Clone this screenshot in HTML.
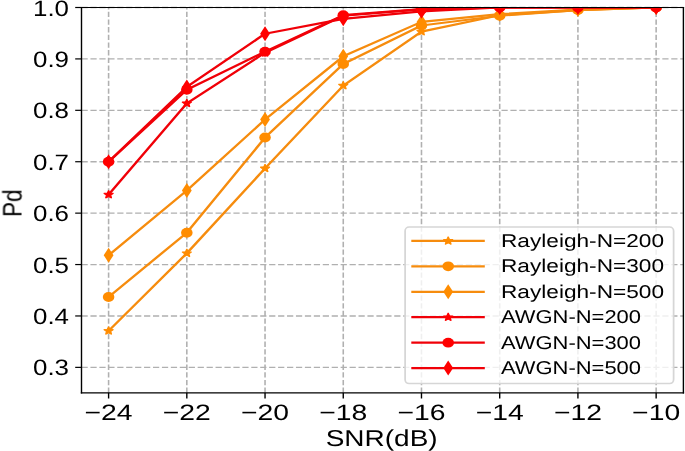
<!DOCTYPE html><html><head><meta charset="utf-8"><style>html,body{margin:0;padding:0;background:#fff;}svg{display:block;}text{font-family:"Liberation Sans",sans-serif;fill:#000;text-rendering:geometricPrecision;}</style></head><body>
<svg width="685" height="451" viewBox="0 0 685 451">
<rect width="685" height="451" fill="#fff"/>
<defs><clipPath id="ax"><rect x="69.957" y="7.5" width="516.652" height="385.4"/></clipPath></defs>
<g transform="scale(1.165,1)">
<g><line x1="93.219" y1="392.9" x2="93.219" y2="7.5" stroke="#b0b0b0" stroke-width="1.35" stroke-dasharray="5.35 2.32"/><line x1="160.361" y1="392.9" x2="160.361" y2="7.5" stroke="#b0b0b0" stroke-width="1.35" stroke-dasharray="5.35 2.32"/><line x1="227.502" y1="392.9" x2="227.502" y2="7.5" stroke="#b0b0b0" stroke-width="1.35" stroke-dasharray="5.35 2.32"/><line x1="294.644" y1="392.9" x2="294.644" y2="7.5" stroke="#b0b0b0" stroke-width="1.35" stroke-dasharray="5.35 2.32"/><line x1="361.785" y1="392.9" x2="361.785" y2="7.5" stroke="#b0b0b0" stroke-width="1.35" stroke-dasharray="5.35 2.32"/><line x1="428.927" y1="392.9" x2="428.927" y2="7.5" stroke="#b0b0b0" stroke-width="1.35" stroke-dasharray="5.35 2.32"/><line x1="496.069" y1="392.9" x2="496.069" y2="7.5" stroke="#b0b0b0" stroke-width="1.35" stroke-dasharray="5.35 2.32"/><line x1="563.21" y1="392.9" x2="563.21" y2="7.5" stroke="#b0b0b0" stroke-width="1.35" stroke-dasharray="5.35 2.32"/><line x1="69.957" y1="367.37" x2="586.609" y2="367.37" stroke="#b0b0b0" stroke-width="1.35" stroke-dasharray="5.35 2.32"/><line x1="69.957" y1="315.96" x2="586.609" y2="315.96" stroke="#b0b0b0" stroke-width="1.35" stroke-dasharray="5.35 2.32"/><line x1="69.957" y1="264.55" x2="586.609" y2="264.55" stroke="#b0b0b0" stroke-width="1.35" stroke-dasharray="5.35 2.32"/><line x1="69.957" y1="213.14" x2="586.609" y2="213.14" stroke="#b0b0b0" stroke-width="1.35" stroke-dasharray="5.35 2.32"/><line x1="69.957" y1="161.73" x2="586.609" y2="161.73" stroke="#b0b0b0" stroke-width="1.35" stroke-dasharray="5.35 2.32"/><line x1="69.957" y1="110.32" x2="586.609" y2="110.32" stroke="#b0b0b0" stroke-width="1.35" stroke-dasharray="5.35 2.32"/><line x1="69.957" y1="58.91" x2="586.609" y2="58.91" stroke="#b0b0b0" stroke-width="1.35" stroke-dasharray="5.35 2.32"/><line x1="69.957" y1="7.5" x2="586.609" y2="7.5" stroke="#b0b0b0" stroke-width="1.35" stroke-dasharray="5.35 2.32"/></g>
<g clip-path="url(#ax)"><polyline points="93.219,330.869 160.361,253.24 227.502,168.413 294.644,85.643 361.785,31.663 428.927,15.212 496.069,10.071 563.21,7.5" fill="none" stroke="#f68c0e" stroke-width="2.2" stroke-linejoin="round"/><polygon points="93.219,326.569 92.082,329.303 89.129,329.54 91.379,331.467 90.691,334.348 93.219,332.804 95.746,334.348 95.059,331.467 97.308,329.54 94.356,329.303" fill="#ff8c00" stroke="#ff8c00" stroke-width="1.0" stroke-linejoin="bevel"/><polygon points="160.361,248.94 159.223,251.674 156.271,251.911 158.52,253.838 157.833,256.719 160.361,255.175 162.888,256.719 162.201,253.838 164.45,251.911 161.498,251.674" fill="#ff8c00" stroke="#ff8c00" stroke-width="1.0" stroke-linejoin="bevel"/><polygon points="227.502,164.113 226.365,166.848 223.413,167.085 225.662,169.011 224.975,171.892 227.502,170.348 230.03,171.892 229.342,169.011 231.592,167.085 228.64,166.848" fill="#ff8c00" stroke="#ff8c00" stroke-width="1.0" stroke-linejoin="bevel"/><polygon points="294.644,81.343 293.506,84.078 290.554,84.314 292.803,86.241 292.116,89.122 294.644,87.578 297.171,89.122 296.484,86.241 298.733,84.314 295.781,84.078" fill="#ff8c00" stroke="#ff8c00" stroke-width="1.0" stroke-linejoin="bevel"/><polygon points="361.785,27.363 360.648,30.097 357.696,30.334 359.945,32.261 359.258,35.141 361.785,33.598 364.313,35.141 363.626,32.261 365.875,30.334 362.923,30.097" fill="#ff8c00" stroke="#ff8c00" stroke-width="1.0" stroke-linejoin="bevel"/><polygon points="428.927,10.912 427.79,13.646 424.837,13.883 427.087,15.809 426.4,18.69 428.927,17.147 431.455,18.69 430.767,15.809 433.017,13.883 430.064,13.646" fill="#ff8c00" stroke="#ff8c00" stroke-width="1.0" stroke-linejoin="bevel"/><polygon points="496.069,5.771 494.931,8.505 491.979,8.742 494.228,10.668 493.541,13.549 496.069,12.006 498.596,13.549 497.909,10.668 500.158,8.742 497.206,8.505" fill="#ff8c00" stroke="#ff8c00" stroke-width="1.0" stroke-linejoin="bevel"/><polygon points="563.21,3.2 562.073,5.935 559.121,6.171 561.37,8.098 560.683,10.979 563.21,9.435 565.738,10.979 565.051,8.098 567.3,6.171 564.348,5.935" fill="#ff8c00" stroke="#ff8c00" stroke-width="1.0" stroke-linejoin="bevel"/><polyline points="93.219,296.938 160.361,232.676 227.502,137.567 294.644,64.051 361.785,25.494 428.927,15.726 496.069,10.071 563.21,7.5" fill="none" stroke="#f68c0e" stroke-width="2.2" stroke-linejoin="round"/><circle cx="93.219" cy="296.938" r="4.95" fill="#ff8c00"/><circle cx="160.361" cy="232.676" r="4.95" fill="#ff8c00"/><circle cx="227.502" cy="137.567" r="4.95" fill="#ff8c00"/><circle cx="294.644" cy="64.051" r="4.95" fill="#ff8c00"/><circle cx="361.785" cy="25.494" r="4.95" fill="#ff8c00"/><circle cx="428.927" cy="15.726" r="4.95" fill="#ff8c00"/><circle cx="496.069" cy="10.071" r="4.95" fill="#ff8c00"/><circle cx="563.21" cy="7.5" r="4.95" fill="#ff8c00"/><polyline points="93.219,255.296 160.361,190.52 227.502,119.574 294.644,56.339 361.785,21.895 428.927,14.183 496.069,9.556 563.21,7.5" fill="none" stroke="#f68c0e" stroke-width="2.2" stroke-linejoin="round"/><polygon points="93.219,247.796 97.419,255.296 93.219,262.796 89.019,255.296" fill="#ff8c00"/><polygon points="160.361,183.02 164.561,190.52 160.361,198.02 156.161,190.52" fill="#ff8c00"/><polygon points="227.502,112.074 231.702,119.574 227.502,127.074 223.302,119.574" fill="#ff8c00"/><polygon points="294.644,48.839 298.844,56.339 294.644,63.839 290.444,56.339" fill="#ff8c00"/><polygon points="361.785,14.395 365.985,21.895 361.785,29.395 357.585,21.895" fill="#ff8c00"/><polygon points="428.927,6.683 433.127,14.183 428.927,21.683 424.727,14.183" fill="#ff8c00"/><polygon points="496.069,2.056 500.269,9.556 496.069,17.056 491.869,9.556" fill="#ff8c00"/><polygon points="563.21,0 567.41,7.5 563.21,15 559.01,7.5" fill="#ff8c00"/><polyline points="93.219,194.632 160.361,103.38 227.502,52.741 294.644,15.726 361.785,9.299 428.927,7.5 496.069,7.5 563.21,7.5" fill="none" stroke="#f00008" stroke-width="2.2" stroke-linejoin="round"/><polygon points="93.219,190.332 92.082,193.067 89.129,193.304 91.379,195.23 90.691,198.111 93.219,196.567 95.746,198.111 95.059,195.23 97.308,193.304 94.356,193.067" fill="#ff0000" stroke="#ff0000" stroke-width="1.0" stroke-linejoin="bevel"/><polygon points="160.361,99.08 159.223,101.814 156.271,102.051 158.52,103.978 157.833,106.858 160.361,105.315 162.888,106.858 162.201,103.978 164.45,102.051 161.498,101.814" fill="#ff0000" stroke="#ff0000" stroke-width="1.0" stroke-linejoin="bevel"/><polygon points="227.502,48.441 226.365,51.175 223.413,51.412 225.662,53.339 224.975,56.22 227.502,54.676 230.03,56.22 229.342,53.339 231.592,51.412 228.64,51.175" fill="#ff0000" stroke="#ff0000" stroke-width="1.0" stroke-linejoin="bevel"/><polygon points="294.644,11.426 293.506,14.16 290.554,14.397 292.803,16.324 292.116,19.204 294.644,17.661 297.171,19.204 296.484,16.324 298.733,14.397 295.781,14.16" fill="#ff0000" stroke="#ff0000" stroke-width="1.0" stroke-linejoin="bevel"/><polygon points="361.785,4.999 360.648,7.734 357.696,7.971 359.945,9.897 359.258,12.778 361.785,11.234 364.313,12.778 363.626,9.897 365.875,7.971 362.923,7.734" fill="#ff0000" stroke="#ff0000" stroke-width="1.0" stroke-linejoin="bevel"/><polygon points="428.927,3.2 427.79,5.935 424.837,6.171 427.087,8.098 426.4,10.979 428.927,9.435 431.455,10.979 430.767,8.098 433.017,6.171 430.064,5.935" fill="#ff0000" stroke="#ff0000" stroke-width="1.0" stroke-linejoin="bevel"/><polygon points="496.069,3.2 494.931,5.935 491.979,6.171 494.228,8.098 493.541,10.979 496.069,9.435 498.596,10.979 497.909,8.098 500.158,6.171 497.206,5.935" fill="#ff0000" stroke="#ff0000" stroke-width="1.0" stroke-linejoin="bevel"/><polygon points="563.21,3.2 562.073,5.935 559.121,6.171 561.37,8.098 560.683,10.979 563.21,9.435 565.738,10.979 565.051,8.098 567.3,6.171 564.348,5.935" fill="#ff0000" stroke="#ff0000" stroke-width="1.0" stroke-linejoin="bevel"/><polyline points="93.219,161.73 160.361,89.756 227.502,51.713 294.644,15.212 361.785,9.197 428.927,7.5 496.069,7.5 563.21,7.5" fill="none" stroke="#f00008" stroke-width="2.2" stroke-linejoin="round"/><circle cx="93.219" cy="161.73" r="4.95" fill="#ff0000"/><circle cx="160.361" cy="89.756" r="4.95" fill="#ff0000"/><circle cx="227.502" cy="51.713" r="4.95" fill="#ff0000"/><circle cx="294.644" cy="15.212" r="4.95" fill="#ff0000"/><circle cx="361.785" cy="9.197" r="4.95" fill="#ff0000"/><circle cx="428.927" cy="7.5" r="4.95" fill="#ff0000"/><circle cx="496.069" cy="7.5" r="4.95" fill="#ff0000"/><circle cx="563.21" cy="7.5" r="4.95" fill="#ff0000"/><polyline points="93.219,161.73 160.361,86.928 227.502,33.719 294.644,18.81 361.785,11.356 428.927,7.5 496.069,7.5 563.21,7.5" fill="none" stroke="#f00008" stroke-width="2.2" stroke-linejoin="round"/><polygon points="93.219,154.23 97.419,161.73 93.219,169.23 89.019,161.73" fill="#ff0000"/><polygon points="160.361,79.428 164.561,86.928 160.361,94.428 156.161,86.928" fill="#ff0000"/><polygon points="227.502,26.219 231.702,33.719 227.502,41.219 223.302,33.719" fill="#ff0000"/><polygon points="294.644,11.31 298.844,18.81 294.644,26.31 290.444,18.81" fill="#ff0000"/><polygon points="361.785,3.856 365.985,11.356 361.785,18.856 357.585,11.356" fill="#ff0000"/><polygon points="428.927,0 433.127,7.5 428.927,15 424.727,7.5" fill="#ff0000"/><polygon points="496.069,0 500.269,7.5 496.069,15 491.869,7.5" fill="#ff0000"/><polygon points="563.21,0 567.41,7.5 563.21,15 559.01,7.5" fill="#ff0000"/></g>
<g stroke="#000" fill="none" stroke-width="1.2"><line x1="69.957" y1="6.9" x2="69.957" y2="393.5"/><line x1="586.609" y1="6.9" x2="586.609" y2="393.5"/><line x1="69.357" y1="7.5" x2="587.209" y2="7.5"/><line x1="69.357" y1="392.9" x2="587.209" y2="392.9"/></g>
<g stroke="#000" stroke-width="1.2"><line x1="93.219" y1="392.9" x2="93.219" y2="398.5"/><line x1="160.361" y1="392.9" x2="160.361" y2="398.5"/><line x1="227.502" y1="392.9" x2="227.502" y2="398.5"/><line x1="294.644" y1="392.9" x2="294.644" y2="398.5"/><line x1="361.785" y1="392.9" x2="361.785" y2="398.5"/><line x1="428.927" y1="392.9" x2="428.927" y2="398.5"/><line x1="496.069" y1="392.9" x2="496.069" y2="398.5"/><line x1="563.21" y1="392.9" x2="563.21" y2="398.5"/><line x1="64.549" y1="367.37" x2="69.957" y2="367.37"/><line x1="64.549" y1="315.96" x2="69.957" y2="315.96"/><line x1="64.549" y1="264.55" x2="69.957" y2="264.55"/><line x1="64.549" y1="213.14" x2="69.957" y2="213.14"/><line x1="64.549" y1="161.73" x2="69.957" y2="161.73"/><line x1="64.549" y1="110.32" x2="69.957" y2="110.32"/><line x1="64.549" y1="58.91" x2="69.957" y2="58.91"/><line x1="64.549" y1="7.5" x2="69.957" y2="7.5"/></g>
<rect x="347.725" y="227.0" width="230.472" height="156.6" rx="3.4" ry="4" fill="#fff" fill-opacity="0.8" stroke="#d6d6d6" stroke-width="1.5"/>
<line x1="353.047" y1="240.95" x2="416.137" y2="240.95" stroke="#f68c0e" stroke-width="2.2"/><polygon points="384.721,236.65 383.584,239.385 380.631,239.621 382.881,241.548 382.194,244.429 384.721,242.885 387.249,244.429 386.561,241.548 388.811,239.621 385.858,239.385" fill="#ff8c00" stroke="#ff8c00" stroke-width="1.0" stroke-linejoin="bevel"/><line x1="353.047" y1="266.37" x2="416.137" y2="266.37" stroke="#f68c0e" stroke-width="2.2"/><circle cx="384.721" cy="266.37" r="4.95" fill="#ff8c00"/><line x1="353.047" y1="291.79" x2="416.137" y2="291.79" stroke="#f68c0e" stroke-width="2.2"/><polygon points="384.721,284.29 388.921,291.79 384.721,299.29 380.521,291.79" fill="#ff8c00"/><line x1="353.047" y1="317.21" x2="416.137" y2="317.21" stroke="#f00008" stroke-width="2.2"/><polygon points="384.721,312.91 383.584,315.645 380.631,315.881 382.881,317.808 382.194,320.689 384.721,319.145 387.249,320.689 386.561,317.808 388.811,315.881 385.858,315.645" fill="#ff0000" stroke="#ff0000" stroke-width="1.0" stroke-linejoin="bevel"/><line x1="353.047" y1="342.63" x2="416.137" y2="342.63" stroke="#f00008" stroke-width="2.2"/><circle cx="384.721" cy="342.63" r="4.95" fill="#ff0000"/><line x1="353.047" y1="368.05" x2="416.137" y2="368.05" stroke="#f00008" stroke-width="2.2"/><polygon points="384.721,360.55 388.921,368.05 384.721,375.55 380.521,368.05" fill="#ff0000"/>
</g>
<g style="will-change:transform"><text x="69" y="375.47" font-size="22.3" text-anchor="end" textLength="36" lengthAdjust="spacingAndGlyphs">0.3</text><text x="69" y="324.06" font-size="22.3" text-anchor="end" textLength="36" lengthAdjust="spacingAndGlyphs">0.4</text><text x="69" y="272.65" font-size="22.3" text-anchor="end" textLength="36" lengthAdjust="spacingAndGlyphs">0.5</text><text x="69" y="221.24" font-size="22.3" text-anchor="end" textLength="36" lengthAdjust="spacingAndGlyphs">0.6</text><text x="69" y="169.83" font-size="22.3" text-anchor="end" textLength="36" lengthAdjust="spacingAndGlyphs">0.7</text><text x="69" y="118.42" font-size="22.3" text-anchor="end" textLength="36" lengthAdjust="spacingAndGlyphs">0.8</text><text x="69" y="67.01" font-size="22.3" text-anchor="end" textLength="36" lengthAdjust="spacingAndGlyphs">0.9</text><text x="69" y="15.6" font-size="22.3" text-anchor="end" textLength="36" lengthAdjust="spacingAndGlyphs">1.0</text><text x="108.6" y="419.5" font-size="22.3" text-anchor="middle" textLength="48" lengthAdjust="spacingAndGlyphs">−24</text><text x="186.82" y="419.5" font-size="22.3" text-anchor="middle" textLength="48" lengthAdjust="spacingAndGlyphs">−22</text><text x="265.04" y="419.5" font-size="22.3" text-anchor="middle" textLength="48" lengthAdjust="spacingAndGlyphs">−20</text><text x="343.26" y="419.5" font-size="22.3" text-anchor="middle" textLength="48" lengthAdjust="spacingAndGlyphs">−18</text><text x="421.48" y="419.5" font-size="22.3" text-anchor="middle" textLength="48" lengthAdjust="spacingAndGlyphs">−16</text><text x="499.7" y="419.5" font-size="22.3" text-anchor="middle" textLength="48" lengthAdjust="spacingAndGlyphs">−14</text><text x="577.92" y="419.5" font-size="22.3" text-anchor="middle" textLength="48" lengthAdjust="spacingAndGlyphs">−12</text><text x="656.14" y="419.5" font-size="22.3" text-anchor="middle" textLength="48" lengthAdjust="spacingAndGlyphs">−10</text><text x="381.7" y="446.4" font-size="23" text-anchor="middle" textLength="112" lengthAdjust="spacingAndGlyphs">SNR(dB)</text><g transform="translate(22.0,203.2) scale(1.165,1) rotate(-90)"><text x="0" y="0" font-size="23" text-anchor="middle" textLength="27.6" lengthAdjust="spacingAndGlyphs">Pd</text></g><text x="501" y="246.85" font-size="18.5" textLength="163" lengthAdjust="spacingAndGlyphs">Rayleigh-N=200</text><text x="501" y="272.27" font-size="18.5" textLength="163" lengthAdjust="spacingAndGlyphs">Rayleigh-N=300</text><text x="501" y="297.69" font-size="18.5" textLength="163" lengthAdjust="spacingAndGlyphs">Rayleigh-N=500</text><text x="501" y="323.11" font-size="18.5" textLength="140" lengthAdjust="spacingAndGlyphs">AWGN-N=200</text><text x="501" y="348.53" font-size="18.5" textLength="140" lengthAdjust="spacingAndGlyphs">AWGN-N=300</text><text x="501" y="373.95" font-size="18.5" textLength="140" lengthAdjust="spacingAndGlyphs">AWGN-N=500</text></g>
</svg></body></html>
